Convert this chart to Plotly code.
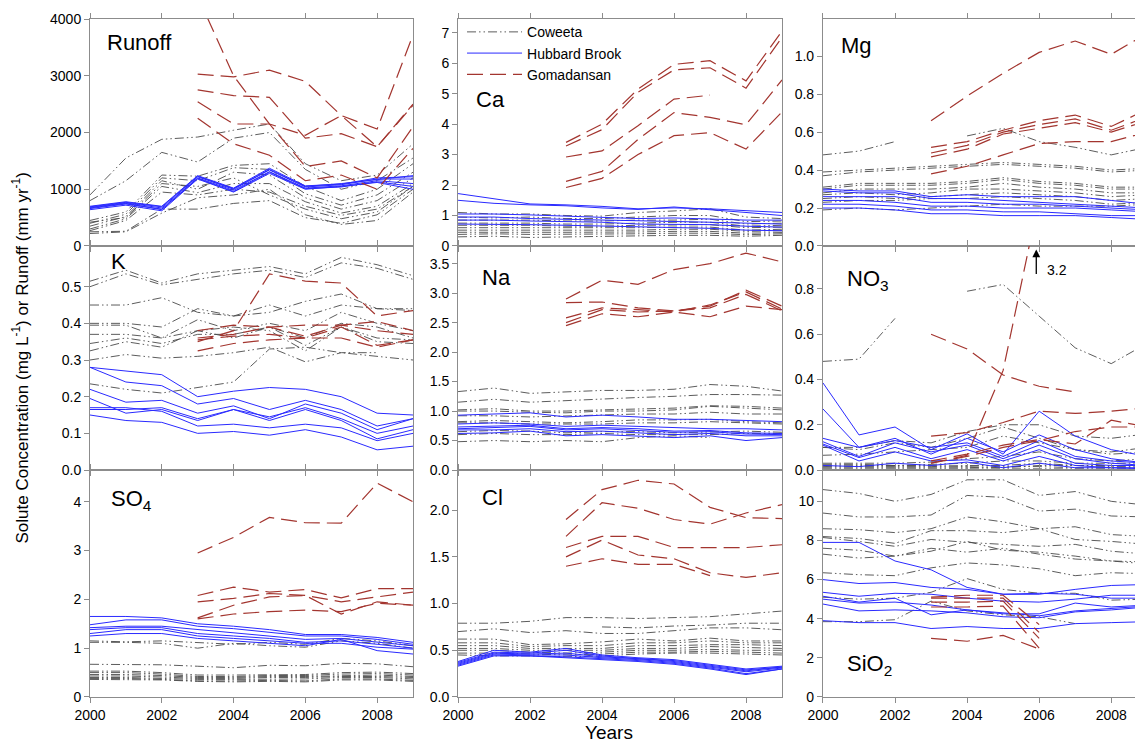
import plotly.graph_objects as go

years = [2000, 2001, 2002, 2003, 2004, 2005, 2006, 2007, 2008, 2009]
gyears = [2003, 2004, 2005, 2006, 2007, 2008, 2009]
N = None

# ---------------- Runoff (mm yr-1) ----------------
runoff_cwt = [
    [900, 1550, 1880, 1920, 2040, 2150, 1450, 1150, 1250, 1800],
    [800, 1150, 1650, 1480, 1900, 2000, 1350, 1000, 1150, 1550],
    [450, 600, 1250, 1230, 1420, 1450, 1050, 800, 1000, 1450],
    [400, 560, 1200, 1150, 1380, 1350, 920, 720, 900, 1300],
    [350, 520, 1150, 1000, 1300, 1250, 850, 650, 800, 1200],
    [300, 480, 1050, 940, 1100, 1100, 780, 580, 700, 1100],
    [270, 450, 950, 900, 1000, 950, 700, 540, 650, 1050],
    [250, 260, 650, 650, 750, 800, 500, 400, 550, 1000],
    [220, 250, 580, 850, 900, 1000, 550, 380, 450, 950],
    [420, 500, 1100, 1050, 1200, 900, 650, 480, 600, 1050],
]
runoff_hbr = [
    [640, 720, 620, 1180, 950, 1280, 1000, 1050, 1120, 1000],
    [660, 740, 650, 1200, 980, 1310, 1020, 1060, 1150, 1100],
    [680, 760, 670, 1220, 1000, 1340, 1040, 1080, 1180, 1180],
    [700, 780, 700, 1240, 1020, 1370, 1060, 1090, 1200, 1220],
    [670, 750, 640, 1190, 960, 1300, 1010, 1040, 1130, 1050],
    [690, 770, 690, 1230, 1010, 1350, 1050, 1100, 1170, 1240],
]
runoff_gom = [
    [4400, 3000, 2150, 1950, 2300, 1750, 2500],
    [3030, 2980, 3100, 2900, 2300, 2060, 3720],
    [2750, 2650, 2620, 1900, 1980, 1750, 2480],
    [2540, 2150, 2150, 1400, 1500, 1200, 2100],
    [2250, 1800, 1600, 1150, 1250, 1000, 1720],
]

# ---------------- Ca (mg L-1) ----------------
ca_cwt = [
    [1.10, 1.05, 1.05, 1.00, 0.98, 1.10, 1.15, 1.22, 0.95, 0.90],
    [0.95, 0.92, 0.95, 0.90, 0.90, 0.95, 1.00, 1.00, 0.80, 0.82],
    [0.85, 0.85, 0.85, 0.82, 0.82, 0.85, 0.85, 0.88, 0.72, 0.75],
    [0.75, 0.75, 0.75, 0.72, 0.72, 0.75, 0.78, 0.78, 0.65, 0.68],
    [0.68, 0.68, 0.68, 0.65, 0.65, 0.68, 0.70, 0.70, 0.60, 0.62],
    [0.60, 0.60, 0.60, 0.58, 0.58, 0.60, 0.62, 0.62, 0.52, 0.55],
    [0.52, 0.52, 0.52, 0.50, 0.50, 0.52, 0.55, 0.55, 0.48, 0.50],
    [0.45, 0.46, 0.45, 0.45, 0.45, 0.46, 0.48, 0.48, 0.42, 0.44],
    [0.38, 0.40, 0.38, 0.38, 0.38, 0.40, 0.42, 0.42, 0.37, 0.40],
    [0.30, 0.32, 0.28, 0.30, 0.30, 0.33, 0.35, 0.35, 0.32, 0.35],
]
ca_hbr = [
    [1.72, 1.55, 1.38, 1.35, 1.30, 1.22, 1.25, 1.22, 1.15, 1.10],
    [1.50, 1.40, 1.35, 1.32, 1.25, 1.20, 1.28, 1.20, 1.10, 1.00],
    [1.05, 1.05, 1.02, 0.98, 0.95, 0.90, 0.92, 0.88, 0.85, 0.85],
    [0.95, 0.95, 0.90, 0.88, 0.85, 0.82, 0.80, 0.78, 0.75, 0.72],
    [0.85, 0.85, 0.82, 0.80, 0.78, 0.72, 0.70, 0.70, 0.65, 0.62],
    [0.72, 0.72, 0.70, 0.68, 0.66, 0.62, 0.60, 0.58, 0.52, 0.50],
]
ca_gom = [
    [3.40, 4.00, 5.15, 5.96, 6.08, 5.42, 7.05],
    [3.28, 3.82, 5.05, 5.78, 5.85, 5.18, 6.85],
    [2.92, 3.12, 3.95, 4.82, 4.95, N, N],
    [2.12, 2.45, 3.50, 4.38, 4.22, 3.98, 5.45],
    [1.92, 2.22, 3.00, 3.62, 3.72, 3.18, 4.40],
]

# ---------------- Mg (mg L-1) ----------------
mg_cwt = [
    [0.48, 0.50, 0.55, N, 0.58, 0.62, 0.55, 0.52, 0.48, 0.52],
    [0.39, 0.40, 0.41, 0.42, 0.43, 0.44, 0.43, 0.42, 0.40, 0.41],
    [0.37, 0.39, 0.40, 0.41, 0.42, 0.43, 0.42, 0.41, 0.39, 0.40],
    [0.31, 0.33, 0.33, 0.33, 0.34, 0.36, 0.34, 0.33, 0.31, 0.31],
    [0.30, 0.32, 0.32, 0.32, 0.33, 0.35, 0.33, 0.32, 0.30, 0.30],
    [0.28, 0.30, 0.30, 0.30, 0.31, 0.33, 0.31, 0.30, 0.28, 0.28],
    [0.27, 0.28, 0.27, 0.28, 0.30, 0.30, 0.29, 0.28, 0.26, 0.27],
    [0.25, 0.26, 0.25, 0.26, 0.27, 0.28, 0.27, 0.26, 0.24, 0.25],
    [0.23, 0.24, 0.24, 0.25, 0.25, 0.26, 0.25, 0.24, 0.22, 0.23],
    [0.19, 0.20, 0.19, 0.20, 0.21, 0.22, 0.21, 0.21, 0.21, 0.22],
]
mg_hbr = [
    [0.30, 0.29, 0.29, 0.26, 0.27, 0.26, 0.26, 0.26, 0.24, 0.22],
    [0.29, 0.28, 0.28, 0.25, 0.25, 0.24, 0.23, 0.22, 0.21, 0.20],
    [0.26, 0.26, 0.26, 0.23, 0.23, 0.22, 0.22, 0.21, 0.20, 0.19],
    [0.24, 0.24, 0.23, 0.21, 0.21, 0.20, 0.20, 0.20, 0.19, 0.18],
    [0.22, 0.22, 0.21, 0.19, 0.19, 0.18, 0.18, 0.17, 0.16, 0.16],
    [0.20, 0.20, 0.19, 0.17, 0.17, 0.16, 0.16, 0.16, 0.15, 0.14],
]
mg_gom = [
    [0.66, 0.79, 0.91, 1.02, 1.08, 1.01, 1.12],
    [0.52, 0.55, 0.61, 0.66, 0.69, 0.63, 0.72],
    [0.49, 0.53, 0.60, 0.64, 0.67, 0.61, 0.68],
    [0.47, 0.51, 0.59, 0.62, 0.65, 0.60, 0.66],
    [0.38, 0.42, 0.48, 0.54, 0.55, 0.55, 0.60],
]

# ---------------- K (mg L-1) ----------------
k_cwt = [
    [0.515, 0.545, 0.510, 0.535, 0.545, 0.555, 0.535, 0.580, 0.560, 0.530],
    [0.500, 0.535, 0.505, 0.520, 0.535, 0.545, 0.525, 0.565, 0.550, 0.520],
    [0.450, 0.450, 0.470, 0.430, 0.420, 0.450, 0.420, 0.450, 0.440, 0.435],
    [0.400, 0.400, 0.390, 0.440, 0.420, 0.430, 0.460, 0.480, 0.440, 0.440],
    [0.395, 0.395, 0.360, 0.410, 0.380, 0.400, 0.380, 0.430, 0.400, 0.380],
    [0.370, 0.370, 0.360, 0.380, 0.360, 0.390, 0.360, 0.400, 0.390, 0.360],
    [0.345, 0.360, 0.345, 0.370, 0.370, 0.390, 0.340, 0.390, 0.360, 0.355],
    [0.325, 0.350, 0.335, 0.380, 0.390, 0.380, 0.325, 0.390, 0.350, 0.345],
    [0.300, 0.315, 0.305, 0.310, 0.320, 0.335, 0.295, 0.320, 0.320, N],
    [0.235, 0.220, 0.210, 0.225, 0.240, 0.330, 0.335, 0.320, 0.310, 0.300],
]
k_hbr = [
    [0.280, 0.270, 0.260, 0.200, 0.215, 0.225, 0.220, 0.200, 0.155, 0.150],
    [0.280, 0.240, 0.230, 0.180, 0.195, 0.165, 0.190, 0.165, 0.120, 0.140],
    [0.220, 0.185, 0.190, 0.155, 0.175, 0.140, 0.180, 0.155, 0.110, 0.140],
    [0.195, 0.155, 0.165, 0.135, 0.165, 0.145, 0.170, 0.140, 0.100, 0.120],
    [0.165, 0.165, 0.170, 0.140, 0.165, 0.135, 0.165, 0.135, 0.085, 0.110],
    [0.170, 0.170, 0.160, 0.120, 0.125, 0.115, 0.125, 0.115, 0.080, 0.100],
    [0.150, 0.135, 0.130, 0.100, 0.105, 0.095, 0.110, 0.090, 0.055, 0.065],
]
k_gom = [
    [0.350, 0.380, 0.535, 0.515, 0.510, 0.420, 0.435],
    [0.380, 0.395, 0.390, 0.395, 0.395, 0.405, 0.380],
    [0.360, 0.370, 0.390, 0.365, 0.395, 0.380, 0.370],
    [0.355, 0.365, 0.370, 0.360, 0.390, 0.340, 0.355],
    [0.325, 0.345, 0.355, 0.360, 0.360, 0.335, 0.355],
]

# ---------------- Na (mg L-1) ----------------
na_cwt = [
    [1.33, 1.39, 1.30, 1.33, 1.35, 1.35, 1.37, 1.45, 1.42, 1.34],
    [1.15, 1.20, 1.15, 1.18, 1.20, 1.23, 1.25, 1.28, 1.28, 1.27],
    [1.02, 1.04, 1.00, 1.00, 1.02, 1.04, 1.05, 1.09, 1.08, 1.05],
    [1.00, 1.00, 0.98, 0.97, 1.00, 1.00, 1.02, 1.08, 1.05, 1.02],
    [0.92, 0.92, 0.90, 0.92, 0.93, 0.95, 0.95, 0.98, 0.95, 0.95],
    [0.82, 0.84, 0.82, 0.80, 0.82, 0.85, 0.85, 0.86, 0.82, 0.80],
    [0.80, 0.80, 0.78, 0.78, 0.78, 0.80, 0.80, 0.82, 0.80, 0.78],
    [0.65, 0.67, 0.66, 0.63, 0.65, 0.65, 0.63, 0.65, 0.66, 0.64],
    [0.60, 0.62, 0.60, 0.60, 0.62, 0.60, 0.60, 0.60, 0.62, 0.62],
    [0.48, 0.50, 0.48, 0.50, 0.48, 0.55, 0.58, 0.55, N, N],
]
na_hbr = [
    [0.93, 0.95, 0.97, 0.90, 0.93, 0.90, 0.86, 0.86, 0.84, 0.82],
    [0.78, 0.80, 0.78, 0.74, 0.76, 0.74, 0.71, 0.70, 0.70, 0.68],
    [0.73, 0.75, 0.76, 0.70, 0.72, 0.70, 0.66, 0.67, 0.63, 0.62],
    [0.70, 0.72, 0.74, 0.68, 0.70, 0.67, 0.64, 0.65, 0.61, 0.60],
    [0.68, 0.68, 0.70, 0.65, 0.66, 0.63, 0.60, 0.62, 0.58, 0.58],
    [0.62, 0.63, 0.66, 0.58, 0.60, 0.58, 0.55, 0.58, 0.50, 0.55],
]
na_gom = [
    [2.90, 3.22, 3.15, 3.40, 3.50, 3.68, 3.53],
    [2.84, 2.85, 2.75, 2.70, 2.78, 3.05, 2.78],
    [2.58, 2.75, 2.72, 2.68, 2.80, 3.02, 2.73],
    [2.50, 2.72, 2.68, 2.70, 2.75, 2.98, 2.70],
    [2.45, 2.65, 2.60, 2.68, 2.60, 2.78, 2.72],
]

# ---------------- NO3 (mg L-1) ----------------
no3_cwt = [
    [0.48, 0.49, 0.67, N, 0.79, 0.82, 0.68, 0.54, 0.47, 0.56],
    [0.10, 0.10, 0.13, 0.12, 0.17, 0.20, 0.20, 0.15, 0.14, 0.16],
    [0.10, 0.09, 0.12, 0.10, 0.14, 0.19, 0.14, 0.09, 0.08, 0.10],
    [0.065, 0.07, 0.08, 0.09, 0.10, 0.15, 0.12, 0.09, 0.07, 0.08],
    [0.03, 0.03, 0.03, 0.035, 0.05, 0.06, 0.08, 0.05, 0.04, 0.05],
    [0.025, 0.025, 0.02, 0.025, 0.03, 0.04, 0.04, 0.03, 0.03, 0.03],
    [0.02, 0.015, 0.015, 0.015, 0.02, 0.02, 0.03, 0.02, 0.02, 0.02],
    [0.01, 0.01, 0.01, 0.01, 0.01, 0.015, 0.015, 0.01, 0.01, 0.01],
    [0.005, 0.005, 0.005, 0.005, 0.005, 0.005, 0.005, 0.005, 0.005, 0.005],
    [0.015, 0.02, 0.02, 0.02, 0.015, 0.01, 0.02, 0.02, 0.015, 0.015],
]
no3_hbr = [
    [0.385, 0.155, 0.19, 0.09, 0.16, 0.07, 0.26, 0.15, 0.09, 0.06],
    [0.27, 0.10, 0.14, 0.07, 0.14, 0.08, 0.155, 0.09, 0.05, 0.03],
    [0.14, 0.10, 0.13, 0.10, 0.12, 0.06, 0.13, 0.06, 0.04, 0.03],
    [0.125, 0.06, 0.12, 0.08, 0.11, 0.05, 0.11, 0.05, 0.03, 0.02],
    [0.115, 0.055, 0.10, 0.05, 0.09, 0.04, 0.09, 0.03, 0.02, 0.02],
    [0.11, 0.04, 0.08, 0.04, 0.045, 0.02, 0.06, 0.02, 0.01, 0.01],
    [0.02, 0.015, 0.03, 0.02, 0.035, 0.01, 0.03, 0.01, 0.01, 0.005],
]
no3_gom = [
    [0.03, 0.065, 0.44, 1.20, N, N, N],
    [0.60, 0.535, 0.42, 0.37, 0.345, N, N],
    [0.15, 0.165, 0.21, 0.26, 0.25, 0.26, 0.275],
    [0.04, 0.07, 0.11, 0.135, 0.115, 0.22, 0.19],
    [0.03, 0.06, 0.10, 0.13, 0.17, 0.19, 0.19],
]

# ---------------- SO4 (mg L-1) ----------------
so4_cwt = [
    [1.15, 1.13, 1.15, 1.12, 1.08, 1.12, 1.08, 1.20, 1.15, 1.05],
    [1.12, 1.12, 1.10, 1.00, 1.10, 1.05, 1.02, 1.15, 1.10, 1.00],
    [0.67, 0.66, 0.66, 0.63, 0.60, 0.65, 0.64, 0.69, 0.68, 0.62],
    [0.53, 0.53, 0.50, 0.45, 0.45, 0.46, 0.46, 0.50, 0.51, 0.48],
    [0.50, 0.50, 0.47, 0.42, 0.42, 0.44, 0.44, 0.47, 0.48, 0.45],
    [0.46, 0.46, 0.44, 0.40, 0.40, 0.42, 0.42, 0.44, 0.45, 0.42],
    [0.43, 0.43, 0.41, 0.38, 0.38, 0.40, 0.40, 0.42, 0.42, 0.40],
    [0.40, 0.40, 0.38, 0.36, 0.36, 0.37, 0.37, 0.40, 0.40, 0.37],
    [0.38, 0.38, 0.36, 0.33, 0.33, 0.34, 0.33, 0.37, 0.37, 0.34],
    [0.36, 0.36, 0.35, 0.32, 0.31, 0.32, 0.31, 0.35, 0.35, 0.32],
]
so4_hbr = [
    [1.65, 1.65, 1.62, 1.50, 1.45, 1.38, 1.28, 1.28, 1.22, 1.12],
    [1.48, 1.58, 1.58, 1.45, 1.40, 1.32, 1.25, 1.25, 1.18, 1.08],
    [1.42, 1.45, 1.45, 1.38, 1.32, 1.25, 1.18, 1.20, 1.12, 1.05],
    [1.38, 1.42, 1.42, 1.30, 1.25, 1.20, 1.12, 1.15, 1.08, 1.00],
    [1.30, 1.38, 1.38, 1.25, 1.20, 1.15, 1.10, 1.10, 1.02, 0.98],
    [1.25, 1.30, 1.30, 1.20, 1.15, 1.10, 1.05, 1.18, 0.95, 0.88],
]
so4_gom = [
    [2.95, 3.27, 3.68, 3.57, 3.56, 4.38, 4.00],
    [2.08, 2.25, 2.15, 2.20, 2.03, 2.22, 2.22],
    [1.95, 2.02, 2.12, 2.08, 1.95, 2.05, 2.15],
    [1.62, 1.88, 2.05, 2.08, 1.70, 1.95, 1.88],
    [1.60, 1.70, 1.75, 1.78, 1.75, 1.92, 1.88],
]

# ---------------- Cl (mg L-1) ----------------
cl_cwt = [
    [0.79, 0.79, 0.81, 0.85, 0.85, 0.84, 0.85, 0.86, 0.89, 0.92],
    [0.70, 0.73, 0.69, 0.71, 0.68, 0.68, 0.71, 0.74, 0.74, 0.72],
    [N, N, N, N, 0.75, 0.74, 0.76, 0.77, 0.79, 0.79],
    [0.62, 0.62, 0.56, 0.57, 0.59, 0.62, 0.60, 0.63, 0.60, 0.60],
    [0.58, 0.58, 0.54, 0.55, 0.55, 0.58, 0.58, 0.60, 0.58, 0.58],
    [0.55, 0.55, 0.52, 0.52, 0.52, 0.55, 0.55, 0.56, 0.56, 0.55],
    [0.52, 0.52, 0.50, 0.50, 0.50, 0.52, 0.52, 0.54, 0.53, 0.52],
    [0.50, 0.50, 0.48, 0.47, 0.48, 0.50, 0.50, 0.51, 0.50, 0.50],
    [0.47, 0.47, 0.46, 0.45, 0.46, 0.48, 0.48, 0.49, 0.48, 0.47],
    [0.45, 0.44, 0.44, 0.43, 0.44, 0.46, 0.47, 0.47, 0.46, 0.45],
]
cl_hbr = [
    [0.38, 0.50, 0.48, 0.52, 0.45, 0.42, 0.40, 0.35, 0.30, 0.33],
    [0.37, 0.48, 0.47, 0.50, 0.44, 0.41, 0.39, 0.34, 0.29, 0.32],
    [0.36, 0.47, 0.46, 0.47, 0.43, 0.41, 0.38, 0.33, 0.28, 0.32],
    [0.35, 0.46, 0.45, 0.45, 0.42, 0.40, 0.37, 0.32, 0.27, 0.31],
    [0.34, 0.45, 0.44, 0.43, 0.41, 0.39, 0.36, 0.31, 0.25, 0.30],
    [0.33, 0.44, 0.44, 0.42, 0.40, 0.38, 0.35, 0.30, 0.24, 0.30],
]
cl_gom = [
    [1.90, 2.22, 2.32, 2.28, 2.03, 1.92, 1.91],
    [1.72, 2.08, 2.02, 1.90, 1.85, 1.97, 2.06],
    [1.60, 1.72, 1.72, 1.60, 1.60, 1.60, 1.63],
    [1.50, 1.68, 1.52, 1.48, 1.33, 1.28, 1.33],
    [1.40, 1.48, 1.42, 1.42, 1.30, N, N],
]

# ---------------- SiO2 (mg L-1) ----------------
sio2_cwt = [
    [10.6, 10.4, 10.0, 10.35, 11.1, 11.1, 10.3, 10.5, 10.0, 9.8],
    [9.4, 9.2, 9.2, 9.3, 10.3, 10.2, 9.5, 9.6, 9.25, 9.2],
    [8.6, 8.55, 8.4, 8.6, 9.2, 8.95, 8.6, 8.7, 8.3, 8.2],
    [8.2, 8.1, 7.85, 8.5, 8.5, 8.4, 8.6, 8.05, 7.95, 7.8],
    [8.15, 7.95, 7.7, 8.05, 7.9, 7.8, 7.7, 7.8, 7.45, 7.3],
    [7.6, 7.5, 7.2, 7.45, 7.95, 7.5, 7.4, 7.2, 6.95, 6.9],
    [7.3, 7.1, 7.2, 7.6, 7.4, 7.6, 7.3, 7.05, 6.95, 6.8],
    [6.35, 6.25, 6.2, 6.6, 6.85, 6.75, 6.55, 6.2, 6.35, 6.3],
    [5.1, 5.0, 5.05, 5.35, 6.05, 5.5, 5.3, 5.3, 4.95, 5.0],
    [3.85, 3.85, 3.95, 4.9, 4.4, 4.2, 4.1, 3.75, N, N],
]
sio2_hbr = [
    [7.9, 7.9, 6.95, 6.5, 5.6, 5.25, 5.25, 5.5, 5.7, 5.75],
    [6.0, 5.8, 5.85, 5.6, 5.5, 5.25, 5.3, 5.25, 5.05, 5.05],
    [5.35, 5.15, 5.3, 5.25, 5.05, 4.9, 4.85, 5.0, 5.2, 5.2],
    [5.15, 4.85, 5.05, 4.2, 4.45, 4.25, 4.25, 4.8, 4.6, 4.7],
    [5.0, 4.8, 4.85, 4.7, 4.45, 4.3, 4.15, 4.4, 4.5, 4.65],
    [4.75, 4.4, 4.45, 4.4, 4.3, 4.1, 4.05, 4.35, 4.45, 4.6],
    [3.9, 3.8, 3.8, 3.5, 3.6, 3.5, 3.5, 3.75, 3.8, 3.85],
]
sio2_gom = [
    [5.10, 5.20, 5.20, 3.70, N, N, N],
    [5.05, 5.05, 5.05, 3.30, N, N, N],
    [4.85, 4.85, 4.90, 3.00, N, N, N],
    [4.60, 4.60, 4.65, 2.50, N, N, N],
    [3.00, 2.85, 3.15, 2.45, N, N, N],
]

panels = [
    ("Runoff", runoff_cwt, runoff_hbr, runoff_gom, [0, 1000, 2000, 3000, 4000], ["0", "1000", "2000", "3000", "4000"]),
    ("Ca", ca_cwt, ca_hbr, ca_gom, [0, 1, 2, 3, 4, 5, 6, 7], ["0", "1", "2", "3", "4", "5", "6", "7"]),
    ("Mg", mg_cwt, mg_hbr, mg_gom, [0, 0.2, 0.4, 0.6, 0.8, 1.0], ["0.0", "0.2", "0.4", "0.6", "0.8", "1.0"]),
    ("K", k_cwt, k_hbr, k_gom, [0, 0.1, 0.2, 0.3, 0.4, 0.5], ["0.0", "0.1", "0.2", "0.3", "0.4", "0.5"]),
    ("Na", na_cwt, na_hbr, na_gom, [0, 0.5, 1, 1.5, 2, 2.5, 3, 3.5], ["0.0", "0.5", "1.0", "1.5", "2.0", "2.5", "3.0", "3.5"]),
    ("NO<sub>3</sub>", no3_cwt, no3_hbr, no3_gom, [0, 0.2, 0.4, 0.6, 0.8], ["0.0", "0.2", "0.4", "0.6", "0.8"]),
    ("SO<sub>4</sub>", so4_cwt, so4_hbr, so4_gom, [0, 1, 2, 3, 4], ["0", "1", "2", "3", "4"]),
    ("Cl", cl_cwt, cl_hbr, cl_gom, [0, 0.5, 1, 1.5, 2], ["0.0", "0.5", "1.0", "1.5", "2.0"]),
    ("SiO<sub>2</sub>", sio2_cwt, sio2_hbr, sio2_gom, [0, 2, 4, 6, 8, 10], ["0", "2", "4", "6", "8", "10"]),
]

# layout / style settings
y_max = [4000, 7.45, 1.196, 0.611, 3.8, 0.99, 4.65, 2.43, 11.6]
label_pos = [(0.046, 0.895), (0.05, 0.645), (0.05, 0.885), (0.06, 0.93), (0.068, 0.86),
             (0.07, 0.85), (0.06, 0.868), (0.068, 0.877), (0.07, 0.14)]
x_dom = [[0.0, 0.3091], [0.3522, 0.6622], [0.7014, 1.0]]
y_dom = [[0.6652, 1.0], [0.3348, 0.6652], [0.0, 0.3348]]
x_max = [2009, 2009, 2008.66]

cwt_style = dict(color="#4a4a4a", width=0.9, dash="9px,3px,1.5px,3px,1.5px,3px")
hbr_style = dict(color="#2a2aff", width=1)
gom_style = dict(color="#a3352f", width=1.2, dash="16px,7px")

FONT = "Liberation Sans, Arial"
fig = go.Figure()
shown = set()
for i, (lab, cwt, hbr, gom, tv, tt) in enumerate(panels):
    ax = "" if i == 0 else str(i + 1)
    for site, series, xs, style in [
        ("Coweeta", cwt, years, cwt_style),
        ("Hubbard Brook", hbr, years, hbr_style),
        ("Gomadansan", gom, gyears, gom_style),
    ]:
        for s in series:
            show = site not in shown
            shown.add(site)
            fig.add_trace(go.Scatter(
                x=xs, y=s, mode="lines", line=style, name=site,
                legendgroup=site, showlegend=show, connectgaps=False,
                xaxis="x" + ax, yaxis="y" + ax, hoverinfo="skip"))

    r, c = divmod(i, 3)
    axis_common = dict(showline=True, linecolor="#8c8c8c", linewidth=1,
                       ticks="outside", ticklen=5, tickcolor="#8c8c8c",
                       showgrid=False, zeroline=False,
                       tickfont=dict(family=FONT, size=14, color="#000"))
    fig.layout["xaxis" + ax] = dict(
        axis_common, domain=x_dom[c], range=[2000, x_max[c]], anchor="y" + ax,
        tickvals=[2000, 2002, 2004, 2006, 2008], mirror="ticks",
        showticklabels=(r == 2))
    fig.layout["yaxis" + ax] = dict(
        axis_common, domain=y_dom[r], range=[0, y_max[i]], anchor="x" + ax,
        tickvals=tv, ticktext=tt, mirror=True)
    fig.add_annotation(
        text=lab, xref="x" + ax + " domain", yref="y" + ax + " domain",
        x=label_pos[i][0], y=label_pos[i][1], xanchor="left", yanchor="middle",
        showarrow=False, font=dict(family=FONT, size=22, color="#000"))

# NO3 off-scale marker
fig.add_annotation(x=2005.92, y=0.975, xref="x6", yref="y6", text="", showarrow=True,
                   arrowhead=2, arrowsize=1.2, arrowwidth=1.3, arrowcolor="#000",
                   ax=0, ay=26)
fig.add_annotation(x=2006.15, y=0.885, xref="x6", yref="y6", text="3.2", showarrow=False,
                   xanchor="left", yanchor="middle",
                   font=dict(family=FONT, size=14, color="#000"))

fig.add_annotation(text="Solute Concentration (mg L<sup>-1</sup>) or Runoff (mm yr<sup>-1</sup>)",
                   xref="paper", yref="paper", x=-0.0665, y=0.5, textangle=-90,
                   xanchor="center", yanchor="middle", showarrow=False,
                   font=dict(family=FONT, size=17, color="#000"))
fig.add_annotation(text="Years", xref="paper", yref="paper", x=0.497, y=-0.0525,
                   xanchor="center", yanchor="middle", showarrow=False,
                   font=dict(family=FONT, size=19, color="#000"))

fig.update_layout(
    width=1135, height=745,
    margin=dict(l=90, r=0, t=19, b=48),
    paper_bgcolor="white", plot_bgcolor="white",
    showlegend=True,
    legend=dict(x=0.356, y=1.004, xanchor="left", yanchor="top",
                bgcolor="rgba(0,0,0,0)", borderwidth=0, tracegroupgap=0,
                itemwidth=55,
                font=dict(family=FONT, size=14, color="#000")),
)

fig.write_html("out.html")
